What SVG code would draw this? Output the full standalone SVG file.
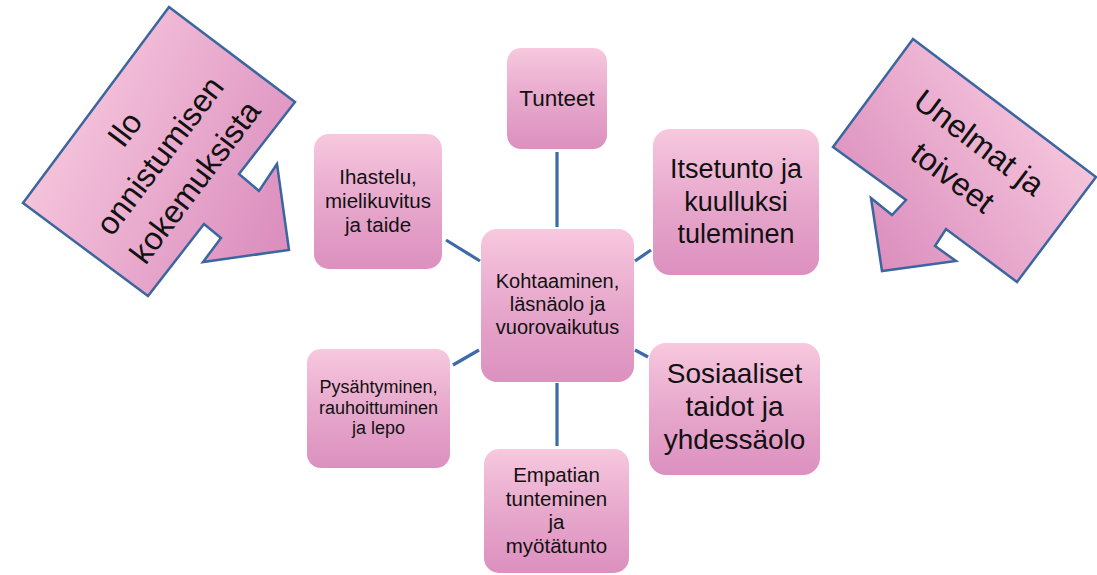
<svg xmlns="http://www.w3.org/2000/svg" width="1097" height="575" viewBox="0 0 1097 575">
<defs>
<linearGradient id="gNode" x1="0" y1="0" x2="0" y2="1">
<stop offset="0" stop-color="#f7c8de"/>
<stop offset="0.5" stop-color="#e7a8cc"/>
<stop offset="1" stop-color="#dc90bf"/>
</linearGradient>
<linearGradient id="gLeft" x1="0.05" y1="0.3" x2="0.95" y2="0.75">
<stop offset="0" stop-color="#f8cadf"/>
<stop offset="1" stop-color="#dc90bf"/>
</linearGradient>
<linearGradient id="gRight" x1="0.95" y1="0.3" x2="0.15" y2="0.85">
<stop offset="0" stop-color="#f8cadf"/>
<stop offset="1" stop-color="#dc90bf"/>
</linearGradient>
<style>
.node{fill:url(#gNode);}
.arrow{stroke:#3b669e;stroke-width:2.5;stroke-linejoin:miter;}
.t{font-family:"Liberation Sans",Arial,sans-serif;fill:#111;text-anchor:middle;}
.conn line{stroke:#3d6aa8;stroke-width:3.2;}
</style>
</defs>
<rect width="1097" height="575" fill="#ffffff"/>

<g id="arrow-left">
<polygon class="arrow" fill="url(#gLeft)" points="295,102 239,174 259,191 277,164 289,250 203,262 221,238 204,224 148,296 23,203 169,7"/>
<g transform="translate(159,155) rotate(-53)">
<text class="t" font-size="32" x="0" y="-32">Ilo</text>
<text class="t" font-size="32" x="0" y="12">onnistumisen</text>
<text class="t" font-size="32" x="0" y="56">kokemuksista</text>
</g>
</g>

<g id="arrow-right">
<polygon class="arrow" fill="url(#gRight)" points="1017,282 946,229 935,246 956,261 882,271 871,198 892,215 906,200 833,147 913,39 1096,177"/>
<g transform="translate(966,160) rotate(37)">
<text class="t" font-size="32" x="0" y="-11">Unelmat ja</text>
<text class="t" font-size="32" x="0" y="33">toiveet</text>
</g>
</g>

<g id="connectors" class="conn">
<line x1="557" y1="152" x2="557" y2="227"/>
<line x1="446" y1="240" x2="480" y2="261"/>
<line x1="635" y1="261" x2="651" y2="250"/>
<line x1="453" y1="365" x2="479" y2="350"/>
<line x1="635" y1="350" x2="648" y2="357"/>
<line x1="557" y1="383" x2="557" y2="446"/>
</g>

<g id="node-tunteet">
<rect class="node" x="507" y="48" width="100" height="101" rx="14"/>
<text class="t" font-size="22.5" x="557" y="106">Tunteet</text>
</g>

<g id="node-ihastelu">
<rect class="node" x="314" y="134" width="128" height="135" rx="15"/>
<text class="t" font-size="20.5" x="378" y="184">Ihastelu,</text>
<text class="t" font-size="20.5" x="378" y="208">mielikuvitus</text>
<text class="t" font-size="20.5" x="378" y="232">ja taide</text>
</g>

<g id="node-itsetunto">
<rect class="node" x="653" y="129" width="166" height="146" rx="17"/>
<text class="t" font-size="27" x="736" y="178">Itsetunto ja</text>
<text class="t" font-size="27" x="736" y="211">kuulluksi</text>
<text class="t" font-size="27" x="736" y="243">tuleminen</text>
</g>

<g id="node-kohtaaminen">
<rect class="node" x="481" y="229" width="153" height="153" rx="16"/>
<text class="t" font-size="20" x="557.5" y="288">Kohtaaminen,</text>
<text class="t" font-size="20" x="557.5" y="311">läsnäolo ja</text>
<text class="t" font-size="20" x="557.5" y="334">vuorovaikutus</text>
</g>

<g id="node-pysahtyminen">
<rect class="node" x="307" y="349" width="143" height="119" rx="14"/>
<text class="t" font-size="18" x="378.5" y="393">Pysähtyminen,</text>
<text class="t" font-size="18" x="378.5" y="414">rauhoittuminen</text>
<text class="t" font-size="18" x="378.5" y="434">ja lepo</text>
</g>

<g id="node-empatian">
<rect class="node" x="484" y="449" width="145" height="124" rx="15"/>
<text class="t" font-size="20.5" x="556.5" y="482">Empatian</text>
<text class="t" font-size="20.5" x="556.5" y="506">tunteminen</text>
<text class="t" font-size="20.5" x="556.5" y="529">ja</text>
<text class="t" font-size="20.5" x="556.5" y="553">myötätunto</text>
</g>

<g id="node-sosiaaliset">
<rect class="node" x="649" y="343" width="171" height="132" rx="17"/>
<text class="t" font-size="28" x="734.5" y="383">Sosiaaliset</text>
<text class="t" font-size="28" x="734.5" y="416">taidot ja</text>
<text class="t" font-size="28" x="734.5" y="449">yhdessäolo</text>
</g>
</svg>
